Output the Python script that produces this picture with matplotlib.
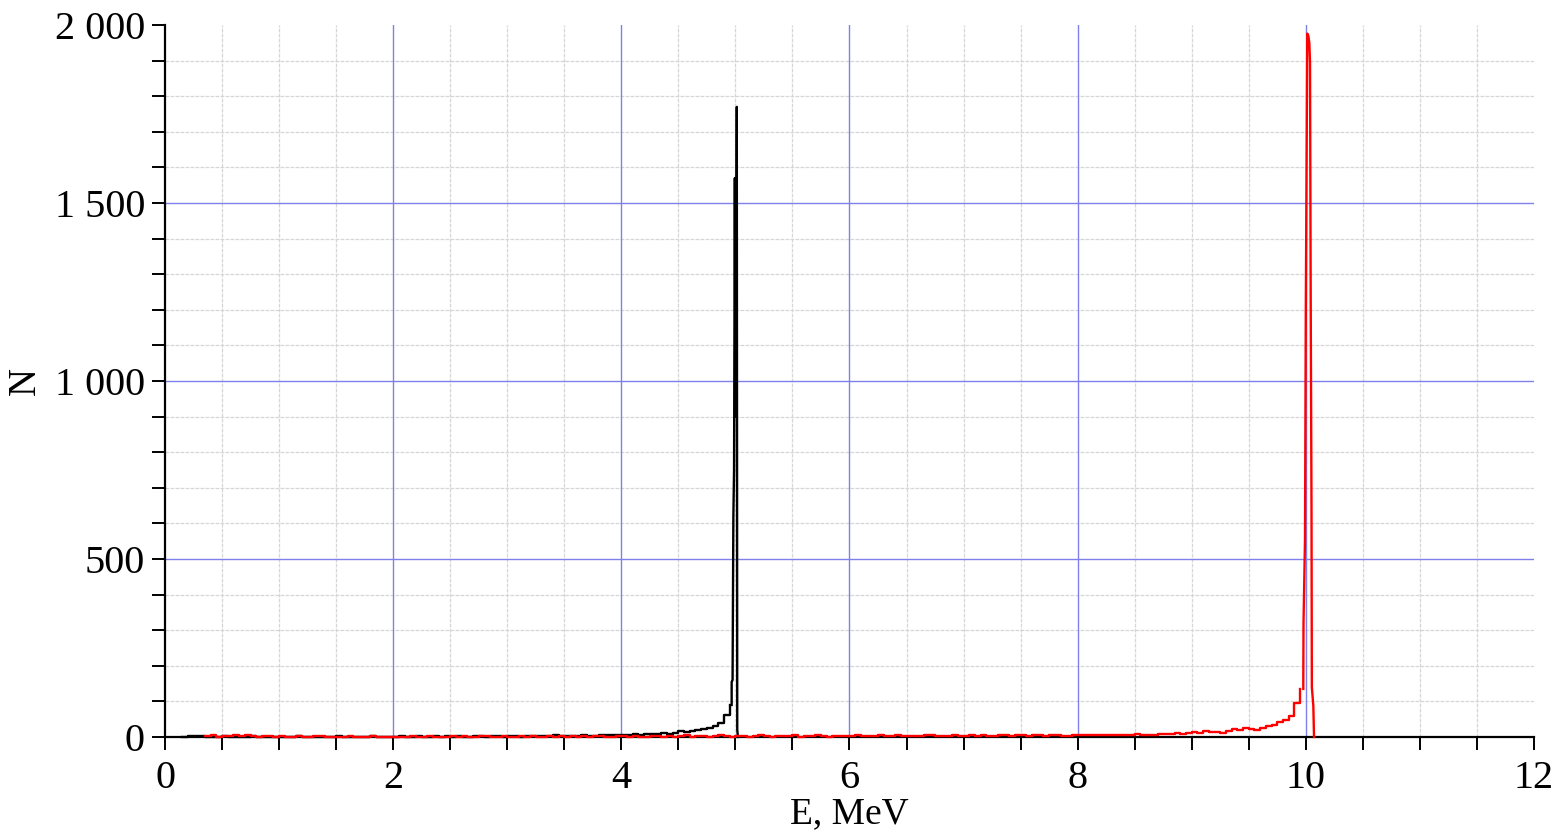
import numpy as np
import matplotlib
matplotlib.use("Agg")
import matplotlib.pyplot as plt
from matplotlib.ticker import MultipleLocator, FuncFormatter

plt.rcParams['font.family'] = ['Liberation Serif', 'DejaVu Serif']

# histogram bins (0.05 MeV) for the low-energy tails
bin_step = 0.05
black_start = 0.15
red_start = 0.35

black_tail = [
    1, 2, 4, 2, 1, 0, 1, 2, 0, 1, 1, 0, 2, 1, 0, 1, 0,
    1, 0, 1, 2, 0, 1, 0, 1, 0, 1, 2, 0, 1, 0, 1, 0, 2, 1, 0, 1,
    1, 2, 0, 1, 3, 1, 0, 2, 1, 3, 1, 2, 0, 1, 4, 2, 1, 2, 3, 1,
    2, 3, 1, 2, 4, 3, 2, 3, 5, 2, 3, 4, 3, 5, 4, 3, 5, 6, 5, 6,
    7, 6, 8, 7, 9, 8, 9, 10, 9, 11, 16, 15, 17, 20, 22, 26, 31, 40, 62, 90,
]

red_tail = [
    3, 5, 1, 2, 4, 6, 2, 5, 4, 1, 3, 2, 0,
    2, 1, 0, 3, 1, 0, 2, 4, 0, 1, 0, 0, 2, 1, 0, 1, 3, 0, 1, 0,
    0, 1, 0, 2, 0, 1, 3, 1, 0, 0, 2, 1, 4, 1, 0, 3, 2, 0, 1, 2,
    1, 0, 2, 1, 3, 0, 1, 2, 0, 4, 1, 2, 0, 3, 1, 2, 4, 1, 0, 2,
    3, 1, 2, 0, 1, 4, 2, 1, 3, 0, 2, 5, 1, 2, 4, 1, 3, 5, 2, 1,
    2, 4, 1, 3, 5, 2, 1, 4, 3, 2, 5, 1, 3, 2, 6, 2, 1, 3, 4, 2,
    3, 5, 2, 4, 3, 6, 2, 3, 5, 2, 4, 3, 2, 5, 6, 3, 2, 4, 5, 3,
    4, 5, 3, 6, 4, 3, 5, 7, 4, 6, 5, 4, 6, 5, 3, 5, 6, 4, 3, 5,
    5, 6, 5, 6, 7, 6, 5, 6, 7, 6, 8, 6, 7, 6, 8, 9, 8, 10, 9, 12,
    14, 12, 16, 15, 13, 12, 18, 22, 20, 24, 22, 20, 26, 30, 35, 42, 48, 60, 95, 135,
]

# photopeaks
black_peak_e = [4.967, 4.975, 4.982, 4.988, 4.995, 5.0, 5.004, 5.008, 5.012, 5.016, 5.022]
black_peak_n = [155, 160, 620, 750, 1570, 900, 1570, 1200, 1770, 20, 0]

red_peak_e = [9.978, 9.98, 9.993, 10.0, 10.013, 10.022, 10.031, 10.037, 10.043, 10.05, 10.053, 10.066, 10.072]
red_peak_n = [150, 320, 555, 1200, 1976, 1970, 1950, 1895, 1230, 640, 140, 88, 0]

x_minor = np.arange(0.5, 12, 0.5)
x_major = [2, 4, 6, 8, 10]
y_minor = np.arange(100, 2000, 100)
y_major = [500, 1000, 1500]

black_e = black_start + bin_step * np.arange(len(black_tail))
red_e = red_start + bin_step * np.arange(len(red_tail))

fig = plt.figure(figsize=(15.6, 8.34), dpi=100)
ax = fig.add_axes([0.1058, 0.1163, 0.8775, 0.8537])

for x in x_minor:
    if x not in x_major:
        ax.axvline(x, color='#d6d6d6', lw=0.9, ls=(0, (3, 1)), zorder=0)
for y in y_minor:
    if y not in y_major:
        ax.axhline(y, color='#d6d6d6', lw=0.9, ls=(0, (3, 1)), zorder=0)
for x in x_major:
    ax.axvline(x, color='#8080ec', lw=1.0, zorder=0.5)
for y in y_major:
    ax.axhline(y, color='#8080ec', lw=1.0, zorder=0.5)

ax.plot(black_e, black_tail, color='black', lw=1.7, drawstyle='steps-post', zorder=3, clip_on=False)
ax.plot([black_e[-1] + bin_step * 0.34] + black_peak_e, [black_tail[-1]] + black_peak_n,
        color='black', lw=1.7, zorder=3, clip_on=False)
ax.plot(red_e, red_tail, color='#ff0000', lw=1.7, drawstyle='steps-post', zorder=4, clip_on=False)
ax.plot([red_e[-1] + bin_step * 0.56] + red_peak_e, [red_tail[-1]] + red_peak_n,
        color='#ff0000', lw=1.7, zorder=4, clip_on=False)

ax.set_xlim(0, 12)
ax.set_ylim(0, 2000)
ax.xaxis.set_major_locator(MultipleLocator(2))
ax.xaxis.set_minor_locator(MultipleLocator(0.5))
ax.yaxis.set_major_locator(MultipleLocator(500))
ax.yaxis.set_minor_locator(MultipleLocator(100))
ax.yaxis.set_major_formatter(FuncFormatter(lambda v, p: f"{int(v):,}".replace(",", " ")))

for s in ['top', 'right']:
    ax.spines[s].set_visible(False)
for s in ['left', 'bottom']:
    ax.spines[s].set_linewidth(1.6)
    ax.spines[s].set_zorder(2.5)

ax.tick_params(which='both', direction='out', length=9.5, width=1.4, color='black')
ax.tick_params(axis='y', which='major', labelsize=29, pad=5)
ax.tick_params(axis='x', which='major', labelsize=29, pad=7)

ax.set_xlabel("E, MeV", fontsize=27, labelpad=0)
ax.set_ylabel("N", fontsize=28, labelpad=8)

fig.savefig("out.png", dpi=100)
